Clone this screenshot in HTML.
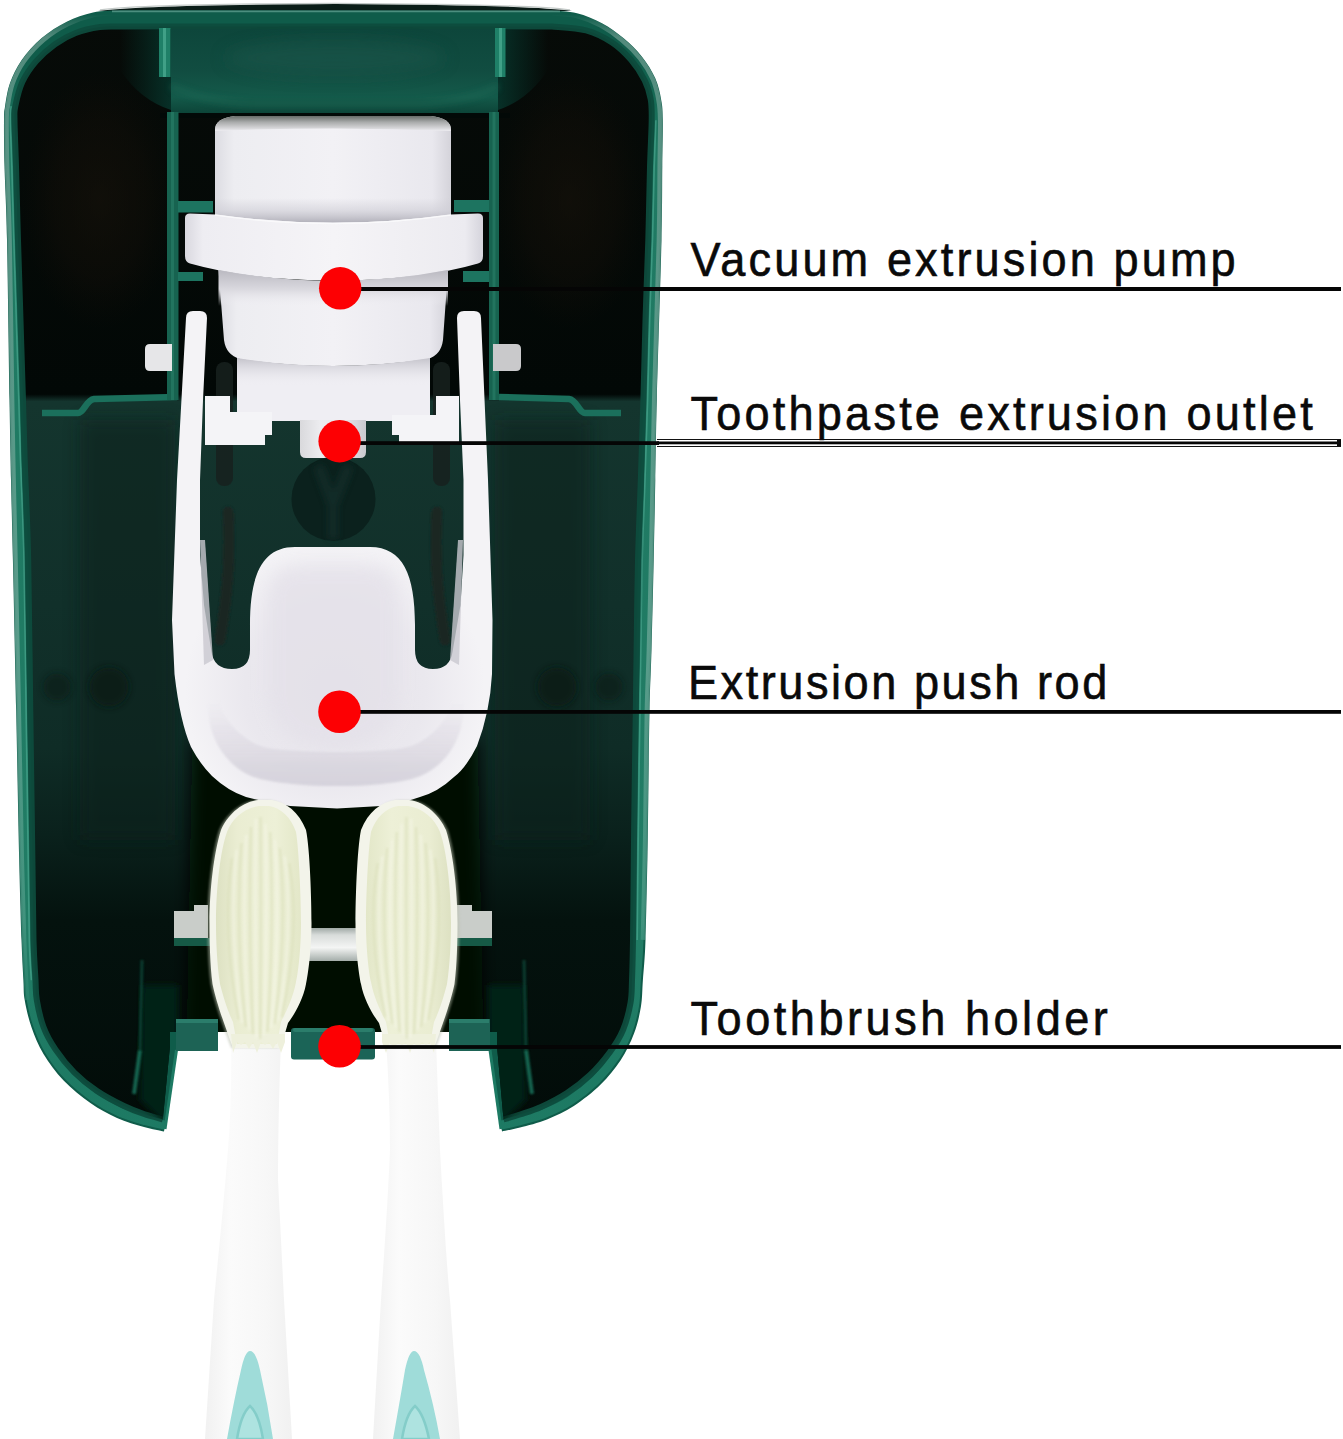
<!DOCTYPE html>
<html lang="en">
<head>
<meta charset="utf-8">
<title>Toothpaste dispenser parts</title>
<style>
html,body{margin:0;padding:0;background:#fff;}
body{width:1343px;height:1439px;overflow:hidden;position:relative;font-family:"Liberation Sans",sans-serif;}
svg{position:absolute;left:0;top:0;display:block;}
.lbl{font-family:"Liberation Sans",sans-serif;font-size:48px;fill:#0a0a0a;stroke:#0a0a0a;stroke-width:0.6px;}
</style>
</head>
<body>
<svg width="1343" height="1439" viewBox="0 0 1343 1439">
<defs>
<linearGradient id="rimG" x1="0" y1="0" x2="1" y2="0">
  <stop offset="0" stop-color="#1f7460"/>
  <stop offset="0.012" stop-color="#1a6a57"/>
  <stop offset="0.03" stop-color="#155a49"/>
  <stop offset="0.97" stop-color="#155a49"/>
  <stop offset="0.985" stop-color="#1c705c"/>
  <stop offset="1" stop-color="#1a6653"/>
</linearGradient>
<linearGradient id="innerG" x1="0" y1="0" x2="0" y2="1439" gradientUnits="userSpaceOnUse">
  <stop offset="0" stop-color="#070b08"/>
  <stop offset="0.274" stop-color="#020806"/>
  <stop offset="0.279" stop-color="#14352e"/>
  <stop offset="0.42" stop-color="#11302a"/>
  <stop offset="0.52" stop-color="#0f2c26"/>
  <stop offset="0.58" stop-color="#0a211c"/>
  <stop offset="0.64" stop-color="#04120e"/>
  <stop offset="0.8" stop-color="#020b08"/>
</linearGradient>
<linearGradient id="dishG" x1="0" y1="29" x2="0" y2="114" gradientUnits="userSpaceOnUse">
  <stop offset="0" stop-color="#0d463b"/>
  <stop offset="0.5" stop-color="#114d41"/>
  <stop offset="0.8" stop-color="#145a4a"/>
  <stop offset="1" stop-color="#0c4337"/>
</linearGradient>
<linearGradient id="cylH" x1="0" y1="0" x2="1" y2="0">
  <stop offset="0" stop-color="#dcdce2"/>
  <stop offset="0.08" stop-color="#ededf1"/>
  <stop offset="0.5" stop-color="#f2f1f5"/>
  <stop offset="0.92" stop-color="#e9e8ee"/>
  <stop offset="1" stop-color="#d4d3da"/>
</linearGradient>
<linearGradient id="topShade" x1="0" y1="115" x2="0" y2="131" gradientUnits="userSpaceOnUse">
  <stop offset="0" stop-color="#5c615e"/>
  <stop offset="0.45" stop-color="#a9abab"/>
  <stop offset="0.85" stop-color="#d9d9dc"/>
  <stop offset="1" stop-color="#efeef2"/>
</linearGradient>
<linearGradient id="underRing" x1="0" y1="272" x2="0" y2="306" gradientUnits="userSpaceOnUse">
  <stop offset="0" stop-color="#bdbcc4"/>
  <stop offset="0.5" stop-color="#d9d8de"/>
  <stop offset="1" stop-color="#eeedf2" stop-opacity="0"/>
</linearGradient>
<linearGradient id="underCyl" x1="0" y1="358" x2="0" y2="386" gradientUnits="userSpaceOnUse">
  <stop offset="0" stop-color="#c4c3cb"/>
  <stop offset="1" stop-color="#eeedf2" stop-opacity="0"/>
</linearGradient>
<radialGradient id="cupG" cx="335" cy="690" r="150" gradientUnits="userSpaceOnUse">
  <stop offset="0" stop-color="#e6e3ea"/>
  <stop offset="0.6" stop-color="#eae8ee"/>
  <stop offset="1" stop-color="#f4f3f6"/>
</radialGradient>
<linearGradient id="bristG" x1="0" y1="0" x2="1" y2="0">
  <stop offset="0" stop-color="#dde1c2"/>
  <stop offset="0.25" stop-color="#eaedd2"/>
  <stop offset="0.7" stop-color="#edf0d7"/>
  <stop offset="1" stop-color="#e3e7c8"/>
</linearGradient>
<linearGradient id="handleG" x1="0" y1="0" x2="1" y2="0">
  <stop offset="0" stop-color="#f1f1f1"/>
  <stop offset="0.3" stop-color="#fbfbfb"/>
  <stop offset="0.7" stop-color="#f7f7f7"/>
  <stop offset="1" stop-color="#f1f1f1"/>
</linearGradient>
<linearGradient id="barG" x1="0" y1="926" x2="0" y2="962" gradientUnits="userSpaceOnUse">
  <stop offset="0" stop-color="#8f9a96"/>
  <stop offset="0.25" stop-color="#d8dcda"/>
  <stop offset="0.6" stop-color="#f4f5f4"/>
  <stop offset="1" stop-color="#9ea8a4"/>
</linearGradient>
<filter id="b1" filterUnits="userSpaceOnUse" x="0" y="0" width="1343" height="1439"><feGaussianBlur stdDeviation="1"/></filter>
<filter id="b3" filterUnits="userSpaceOnUse" x="0" y="0" width="1343" height="1439"><feGaussianBlur stdDeviation="3"/></filter>
<filter id="b8" filterUnits="userSpaceOnUse" x="0" y="0" width="1343" height="1439"><feGaussianBlur stdDeviation="8"/></filter>
<filter id="b16" filterUnits="userSpaceOnUse" x="0" y="0" width="1343" height="1439"><feGaussianBlur stdDeviation="16"/></filter>
<clipPath id="innerClip"><path d="M120.0 26.5 L552.0 26.5 C557.7 27.1 576.1 27.7 586.1 30.4 C596.1 33.1 604.5 37.6 612.0 42.5 C619.5 47.4 625.5 53.5 631.0 59.8 C636.5 66.1 641.4 73.8 644.7 80.4 C648.0 87.0 649.5 92.7 650.7 99.3 C651.9 105.9 651.8 108.8 651.7 120.0 C651.6 131.2 650.6 146.7 650.0 166.7 C649.4 186.7 649.0 214.4 648.3 240.0 C647.5 265.6 646.3 293.3 645.5 320.0 C644.7 346.7 644.2 373.3 643.4 400.0 C642.6 426.7 641.7 453.3 640.8 480.0 C639.9 506.7 638.7 531.7 638.0 560.0 C637.3 588.3 637.0 624.8 636.6 650.0 C636.2 675.2 636.1 686.0 635.8 711.0 C635.4 736.0 634.8 775.2 634.5 800.0 C634.2 824.8 634.0 836.7 633.8 860.0 C633.5 883.3 633.3 920.0 633.0 940.0 C632.7 960.0 632.4 969.5 632.0 980.0 C631.6 990.5 632.0 994.7 630.5 1003.0 C629.0 1011.3 626.4 1021.8 623.0 1030.0 C619.6 1038.2 615.5 1044.5 610.0 1052.0 C604.5 1059.5 597.2 1068.2 590.0 1075.0 C582.8 1081.8 575.2 1087.7 567.0 1093.0 C558.8 1098.3 548.8 1103.4 541.0 1107.0 C533.2 1110.6 526.2 1112.4 520.0 1114.5 C513.8 1116.6 506.2 1118.6 503.5 1119.4 L497 1046 L497 1032 L170 1032 L170 1046 L162.8 1119.4 C159.7 1118.5 150.5 1116.2 144.0 1114.0 C137.5 1111.8 131.8 1109.8 124.0 1106.0 C116.2 1102.2 105.3 1096.6 97.0 1091.0 C88.7 1085.4 81.2 1079.4 74.3 1072.5 C67.4 1065.6 60.7 1057.3 55.6 1049.7 C50.5 1042.1 46.6 1035.3 43.5 1027.0 C40.4 1018.7 38.1 1007.8 36.8 1000.0 C35.5 992.2 36.0 990.0 35.5 980.0 C35.0 970.0 34.0 960.0 33.5 940.0 C33.0 920.0 32.9 898.2 32.4 860.0 C31.9 821.8 31.0 761.0 30.3 711.0 C29.6 661.0 29.1 601.8 28.2 560.0 C27.3 518.2 25.6 486.7 24.7 460.0 C23.8 433.3 23.7 423.3 23.0 400.0 C22.3 376.7 21.3 346.7 20.5 320.0 C19.7 293.3 18.8 265.7 18.0 240.0 C17.2 214.3 16.6 186.0 16.0 166.0 C15.4 146.0 14.6 129.9 14.5 120.0 C14.4 110.0 14.0 112.6 15.3 106.3 C16.6 100.0 18.9 89.6 22.3 82.1 C25.8 74.6 30.6 67.7 36.0 61.4 C41.5 55.1 48.4 48.9 55.0 44.2 C61.6 39.5 68.2 35.9 75.7 33.0 C83.2 30.1 92.4 28.1 99.8 27.0 C107.2 25.9 116.6 26.6 120.0 26.5 Z"/></clipPath>
<clipPath id="lheadClip"><path d="M262 803 C296 803 307 870 307 925 C307 975 293 1008 284 1032 L278 1046 L236 1046 L228 1032 C219 1005 216 975 216 925 C216 870 228 803 262 803 Z"/></clipPath>
<linearGradient id="paleV" x1="0" y1="0" x2="0" y2="1439" gradientUnits="userSpaceOnUse">
  <stop offset="0.010" stop-color="#7fa99d" stop-opacity="0"/>
  <stop offset="0.026" stop-color="#7fa99d" stop-opacity="0.6"/>
  <stop offset="0.06" stop-color="#6a9c8f" stop-opacity="0.75"/>
  <stop offset="0.45" stop-color="#68a595" stop-opacity="0.8"/>
  <stop offset="0.64" stop-color="#4f9c88" stop-opacity="0.7"/>
  <stop offset="0.70" stop-color="#2f8a72" stop-opacity="0.4"/>
  <stop offset="0.74" stop-color="#1f7a63" stop-opacity="0"/>
</linearGradient>
<linearGradient id="tealV" x1="0" y1="0" x2="0" y2="1439" gradientUnits="userSpaceOnUse">
  <stop offset="0.04" stop-color="#238068" stop-opacity="0"/>
  <stop offset="0.10" stop-color="#238068" stop-opacity="0.8"/>
  <stop offset="0.66" stop-color="#238068" stop-opacity="0.9"/>
  <stop offset="0.76" stop-color="#1f7d66" stop-opacity="0.9"/>
</linearGradient>
<radialGradient id="brownL" cx="100" cy="200" r="130" gradientUnits="userSpaceOnUse" gradientTransform="translate(100 200) scale(0.6 1) translate(-100 -200)">
  <stop offset="0" stop-color="#1a130b" stop-opacity="0.55"/>
  <stop offset="0.6" stop-color="#171009" stop-opacity="0.35"/>
  <stop offset="1" stop-color="#120d08" stop-opacity="0"/>
</radialGradient>
<radialGradient id="brownR" cx="570" cy="200" r="130" gradientUnits="userSpaceOnUse" gradientTransform="translate(570 200) scale(0.6 1) translate(-570 -200)">
  <stop offset="0" stop-color="#1a130b" stop-opacity="0.55"/>
  <stop offset="0.6" stop-color="#171009" stop-opacity="0.35"/>
  <stop offset="1" stop-color="#120d08" stop-opacity="0"/>
</radialGradient>
<linearGradient id="dishL" x1="120" y1="0" x2="171" y2="0" gradientUnits="userSpaceOnUse">
  <stop offset="0" stop-color="#07342b" stop-opacity="0"/>
  <stop offset="1" stop-color="#07342b" stop-opacity="0.9"/>
</linearGradient>
<linearGradient id="dishR" x1="548" y1="0" x2="498" y2="0" gradientUnits="userSpaceOnUse">
  <stop offset="0" stop-color="#07342b" stop-opacity="0"/>
  <stop offset="1" stop-color="#07342b" stop-opacity="0.9"/>
</linearGradient>
<linearGradient id="cylBot" x1="0" y1="198" x2="0" y2="222" gradientUnits="userSpaceOnUse">
  <stop offset="0" stop-color="#cfced6" stop-opacity="0"/>
  <stop offset="0.5" stop-color="#cfced6" stop-opacity="0.6"/>
  <stop offset="1" stop-color="#b4b3bc" stop-opacity="1"/>
</linearGradient>
<linearGradient id="ringH" x1="185" y1="0" x2="483" y2="0" gradientUnits="userSpaceOnUse">
  <stop offset="0" stop-color="#d9d8df"/>
  <stop offset="0.06" stop-color="#eeedf2"/>
  <stop offset="0.5" stop-color="#f5f4f7"/>
  <stop offset="0.94" stop-color="#ecebf0"/>
  <stop offset="1" stop-color="#d5d4dc"/>
</linearGradient>
<linearGradient id="bowlWall" x1="0" y1="700" x2="0" y2="786" gradientUnits="userSpaceOnUse">
  <stop offset="0" stop-color="#e6e4ea" stop-opacity="0"/>
  <stop offset="0.35" stop-color="#e0dde5" stop-opacity="0.7"/>
  <stop offset="0.75" stop-color="#d8d5de" stop-opacity="1"/>
  <stop offset="1" stop-color="#d2cfd9" stop-opacity="1"/>
</linearGradient>
<linearGradient id="nozG" x1="300" y1="0" x2="366" y2="0" gradientUnits="userSpaceOnUse">
  <stop offset="0" stop-color="#d9d9dc"/>
  <stop offset="0.3" stop-color="#ececef"/>
  <stop offset="0.7" stop-color="#e4e4e8"/>
  <stop offset="1" stop-color="#c9c9ce"/>
</linearGradient>
</defs>
<rect width="1343" height="1439" fill="#ffffff"/>
<g id="body">
<!-- dark top surface -->
<path d="M98 11 Q140 5 335 4 Q530 5 572 11 Z" fill="#0b1d18"/>
<path d="M100 10 Q140 4.200 335 3.300 Q530 4.200 570 10" fill="none" stroke="#7d8a86" stroke-width="1.300" opacity="0.45"/>
<!-- outer rim -->
<path d="M120.0 10.3 L552.0 10.5 C556.2 11.0 568.7 11.2 577.0 13.3 C585.3 15.4 594.2 19.1 602.0 23.3 C609.8 27.5 617.0 32.7 623.7 38.3 C630.4 43.9 636.7 50.0 642.0 56.7 C647.3 63.4 652.1 71.1 655.3 78.3 C658.5 85.5 660.0 93.0 661.2 100.0 C662.5 107.0 662.6 109.0 662.8 120.0 C663.0 131.0 662.5 146.0 662.3 166.0 C662.1 186.0 662.4 201.0 661.5 240.0 C660.6 279.0 657.8 360.0 656.8 400.0 C655.8 440.0 655.8 453.3 655.3 480.0 C654.8 506.7 654.3 531.7 653.7 560.0 C653.1 588.3 652.2 624.8 651.5 650.0 C650.8 675.2 650.0 686.0 649.5 711.0 C649.0 736.0 648.6 775.2 648.3 800.0 C647.9 824.8 647.9 836.7 647.4 860.0 C646.9 883.3 646.2 920.0 645.5 940.0 C644.8 960.0 643.7 968.9 642.9 980.0 C642.1 991.1 642.4 997.9 640.9 1006.8 C639.4 1015.7 637.4 1024.7 634.0 1033.6 C630.6 1042.5 626.4 1051.5 620.8 1060.0 C615.2 1068.5 608.4 1076.9 600.6 1084.6 C592.8 1092.3 582.7 1100.2 573.8 1106.0 C564.9 1111.8 556.0 1115.8 547.0 1119.4 C538.0 1123.0 527.5 1125.5 520.0 1127.5 C512.5 1129.5 505.0 1130.8 502.0 1131.5 L490 1050 L490 1032 L177 1032 L177 1046 L164.0 1131.5 C160.7 1130.8 151.8 1129.2 144.0 1127.0 C136.2 1124.8 125.9 1122.0 117.0 1118.0 C108.1 1114.0 99.3 1109.2 90.4 1103.0 C81.5 1096.8 71.4 1088.7 63.6 1080.5 C55.8 1072.3 48.9 1062.9 43.5 1054.0 C38.1 1045.1 34.5 1036.0 31.4 1027.0 C28.3 1018.0 26.0 1007.8 24.7 1000.0 C23.4 992.2 23.9 990.0 23.4 980.0 C22.9 970.0 22.2 960.0 21.5 940.0 C20.8 920.0 20.1 898.2 19.2 860.0 C18.3 821.8 17.2 761.0 16.2 711.0 C15.1 661.0 13.8 598.5 12.9 560.0 C12.0 521.5 11.6 506.7 11.0 480.0 C10.4 453.3 10.2 440.0 9.5 400.0 C8.8 360.0 7.8 279.0 7.0 240.0 C6.2 201.0 5.0 186.0 4.5 166.0 C4.0 146.0 3.9 129.9 4.0 120.0 C4.1 110.1 4.0 112.9 5.0 106.7 C6.0 100.5 7.2 90.8 10.0 83.0 C12.8 75.2 16.4 67.5 21.7 60.0 C27.0 52.5 34.2 44.4 41.7 38.0 C49.2 31.6 58.2 25.9 66.7 21.7 C75.2 17.4 84.1 14.4 93.0 12.5 C101.9 10.6 115.5 10.7 120.0 10.3 Z" fill="#0f5c4a"/>
<!-- pale outer band on sides -->
<path d="M120.5 16.8 C116.2 17.1 102.8 17.1 94.4 18.9 C85.9 20.6 77.7 23.5 69.6 27.5 C61.5 31.5 53.0 36.9 45.9 42.9 C38.8 49.0 32.0 56.7 27.0 63.7 C22.0 70.8 18.7 77.9 16.1 85.2 C13.5 92.5 12.4 101.9 11.4 107.7 C10.5 113.6 10.6 110.4 10.5 120.1 C10.4 129.7 10.5 145.9 11.0 165.8 C11.5 185.8 12.7 200.9 13.5 239.9 C14.3 278.9 15.3 359.9 16.0 399.9 C16.7 439.9 16.9 453.2 17.5 479.9 C18.1 506.5 18.5 521.4 19.4 559.9 C20.3 598.4 21.6 660.9 22.7 710.9 C23.7 760.9 24.8 821.7 25.7 859.8 C26.6 898.0 27.3 919.8 28.0 939.8 C28.7 959.7 29.4 969.8 29.9 979.7 C30.4 989.5 29.8 991.4 31.1 998.9 C32.4 1006.4 34.5 1016.2 37.5 1024.9 C40.5 1033.5 43.9 1042.1 49.1 1050.6 C54.2 1059.2 60.8 1068.2 68.3 1076.0 C75.8 1083.8 85.6 1091.7 94.1 1097.7 C102.7 1103.7 111.0 1108.2 119.7 1112.1 C128.3 1115.9 138.2 1118.6 145.8 1120.8 C153.4 1122.9 162.2 1124.4 165.4 1125.2" fill="none" stroke="url(#tealV)" stroke-width="9"/>
<path d="M551.3 17.0 C555.3 17.4 567.4 17.6 575.4 19.6 C583.3 21.6 591.6 25.1 598.9 29.0 C606.3 33.0 613.2 38.0 619.5 43.3 C625.9 48.6 631.9 54.5 636.9 60.7 C641.9 67.0 646.4 74.2 649.4 80.9 C652.3 87.7 653.6 94.6 654.8 101.2 C656.0 107.7 656.1 109.3 656.3 120.1 C656.5 130.9 656.0 146.0 655.8 165.9 C655.6 185.9 655.9 200.9 655.0 239.8 C654.1 278.8 651.3 359.8 650.3 399.8 C649.3 439.8 649.3 453.2 648.8 479.9 C648.3 506.5 647.8 531.5 647.2 559.9 C646.6 588.2 645.7 624.7 645.0 649.8 C644.3 675.0 643.5 685.8 643.0 710.9 C642.5 735.9 642.2 775.1 641.8 799.9 C641.5 824.7 641.4 836.6 640.9 859.9 C640.4 883.2 639.8 919.8 639.0 939.8 C638.3 959.7 637.2 968.6 636.4 979.6 C635.7 990.5 635.9 997.1 634.5 1005.7 C633.1 1014.4 631.1 1022.9 627.9 1031.3 C624.7 1039.8 620.7 1048.3 615.4 1056.4 C610.1 1064.5 603.6 1072.6 596.1 1080.0 C588.5 1087.3 578.8 1095.0 570.3 1100.5 C561.7 1106.1 553.2 1109.9 544.6 1113.4 C535.9 1116.8 525.6 1119.3 518.3 1121.2 C511.0 1123.2 503.5 1124.5 500.6 1125.2" fill="none" stroke="url(#tealV)" stroke-width="9"/>
<path d="M120.2 12.9 C115.8 13.2 102.3 13.2 93.5 15.0 C84.8 16.9 76.2 19.9 67.9 24.0 C59.5 28.2 50.7 33.7 43.4 40.0 C36.0 46.2 29.0 54.2 23.8 61.5 C18.7 68.8 15.2 76.3 12.4 83.9 C9.7 91.5 8.5 101.1 7.6 107.1 C6.6 113.1 6.7 110.2 6.6 120.0 C6.5 129.8 6.6 145.9 7.1 165.9 C7.6 185.9 8.8 200.9 9.6 239.9 C10.4 278.9 11.4 360.0 12.1 400.0 C12.8 440.0 13.0 453.3 13.6 479.9 C14.2 506.6 14.6 521.4 15.5 559.9 C16.4 598.4 17.7 660.9 18.8 710.9 C19.8 760.9 20.9 821.8 21.8 859.9 C22.7 898.1 23.4 919.9 24.1 939.9 C24.8 959.9 25.5 969.9 26.0 979.9 C26.5 989.8 27.1 996.5 27.3 999.8" fill="none" stroke="url(#paleV)" stroke-width="4.500"/>
<path d="M551.7 13.1 C555.8 13.5 568.2 13.7 576.4 15.8 C584.5 17.9 593.2 21.5 600.8 25.6 C608.4 29.7 615.5 34.8 622.0 40.3 C628.6 45.7 634.8 51.8 640.0 58.3 C645.1 64.8 649.8 72.3 652.9 79.4 C656.0 86.4 657.4 93.7 658.6 100.5 C659.9 107.2 660.0 109.1 660.2 120.0 C660.4 131.0 659.9 146.0 659.7 166.0 C659.5 186.0 659.8 200.9 658.9 239.9 C658.0 278.9 655.2 359.9 654.2 399.9 C653.2 439.9 653.2 453.3 652.7 479.9 C652.2 506.6 651.7 531.6 651.1 559.9 C650.5 588.3 649.6 624.8 648.9 649.9 C648.2 675.1 647.4 685.9 646.9 710.9 C646.4 736.0 646.1 775.1 645.7 800.0 C645.4 824.8 645.3 836.6 644.8 859.9 C644.3 883.3 643.2 926.6 642.9 939.9" fill="none" stroke="url(#paleV)" stroke-width="4.500"/>
<path d="M11.1 106.1 C11.0 108.4 10.2 110.0 10.3 120.0 C10.4 130.1 11.2 146.1 11.8 166.1 C12.4 186.1 13.1 214.5 13.8 240.1 C14.6 265.8 15.5 293.5 16.3 320.1 C17.1 346.8 18.1 376.8 18.8 400.1 C19.5 423.5 19.6 433.5 20.5 460.1 C21.4 486.8 23.1 518.3 24.0 560.1 C24.9 601.9 25.4 661.1 26.1 711.1 C26.8 761.1 27.7 821.9 28.2 860.1 C28.7 898.2 28.8 920.1 29.3 940.1 C29.8 960.1 31.0 973.5 31.3 980.2" fill="none" stroke="#55b39a" stroke-width="1.600" opacity="0.55"/>
<path d="M655.9 120.2 C655.6 127.9 654.8 146.8 654.2 166.8 C653.6 186.8 653.2 214.6 652.5 240.1 C651.7 265.7 650.5 293.5 649.7 320.1 C648.9 346.8 648.4 373.5 647.6 400.1 C646.8 426.8 645.9 453.5 645.0 480.1 C644.1 506.8 642.9 531.8 642.2 560.1 C641.5 588.4 641.2 624.9 640.8 650.1 C640.4 675.2 640.3 686.1 640.0 711.1 C639.6 736.1 639.0 775.2 638.7 800.1 C638.4 824.9 638.2 836.7 638.0 860.0 C637.7 883.4 637.3 926.7 637.2 940.0" fill="none" stroke="#55b39a" stroke-width="1.600" opacity="0.55"/>
<!-- top highlight line -->
<path d="M112 11.300 L560 11.300" stroke="#5c9c8d" stroke-width="1.800" opacity="0.8"/>
<!-- inner dark -->
<path d="M120.0 26.5 L552.0 26.5 C557.7 27.1 576.1 27.7 586.1 30.4 C596.1 33.1 604.5 37.6 612.0 42.5 C619.5 47.4 625.5 53.5 631.0 59.8 C636.5 66.1 641.4 73.8 644.7 80.4 C648.0 87.0 649.5 92.7 650.7 99.3 C651.9 105.9 651.8 108.8 651.7 120.0 C651.6 131.2 650.6 146.7 650.0 166.7 C649.4 186.7 649.0 214.4 648.3 240.0 C647.5 265.6 646.3 293.3 645.5 320.0 C644.7 346.7 644.2 373.3 643.4 400.0 C642.6 426.7 641.7 453.3 640.8 480.0 C639.9 506.7 638.7 531.7 638.0 560.0 C637.3 588.3 637.0 624.8 636.6 650.0 C636.2 675.2 636.1 686.0 635.8 711.0 C635.4 736.0 634.8 775.2 634.5 800.0 C634.2 824.8 634.0 836.7 633.8 860.0 C633.5 883.3 633.3 920.0 633.0 940.0 C632.7 960.0 632.4 969.5 632.0 980.0 C631.6 990.5 632.0 994.7 630.5 1003.0 C629.0 1011.3 626.4 1021.8 623.0 1030.0 C619.6 1038.2 615.5 1044.5 610.0 1052.0 C604.5 1059.5 597.2 1068.2 590.0 1075.0 C582.8 1081.8 575.2 1087.7 567.0 1093.0 C558.8 1098.3 548.8 1103.4 541.0 1107.0 C533.2 1110.6 526.2 1112.4 520.0 1114.5 C513.8 1116.6 506.2 1118.6 503.5 1119.4 L497 1046 L497 1032 L170 1032 L170 1046 L162.8 1119.4 C159.7 1118.5 150.5 1116.2 144.0 1114.0 C137.5 1111.8 131.8 1109.8 124.0 1106.0 C116.2 1102.2 105.3 1096.6 97.0 1091.0 C88.7 1085.4 81.2 1079.4 74.3 1072.5 C67.4 1065.6 60.7 1057.3 55.6 1049.7 C50.5 1042.1 46.6 1035.3 43.5 1027.0 C40.4 1018.7 38.1 1007.8 36.8 1000.0 C35.5 992.2 36.0 990.0 35.5 980.0 C35.0 970.0 34.0 960.0 33.5 940.0 C33.0 920.0 32.9 898.2 32.4 860.0 C31.9 821.8 31.0 761.0 30.3 711.0 C29.6 661.0 29.1 601.8 28.2 560.0 C27.3 518.2 25.6 486.7 24.7 460.0 C23.8 433.3 23.7 423.3 23.0 400.0 C22.3 376.7 21.3 346.7 20.5 320.0 C19.7 293.3 18.8 265.7 18.0 240.0 C17.2 214.3 16.6 186.0 16.0 166.0 C15.4 146.0 14.6 129.9 14.5 120.0 C14.4 110.0 14.0 112.6 15.3 106.3 C16.6 100.0 18.9 89.6 22.3 82.1 C25.8 74.6 30.6 67.7 36.0 61.4 C41.5 55.1 48.4 48.9 55.0 44.2 C61.6 39.5 68.2 35.9 75.7 33.0 C83.2 30.1 92.4 28.1 99.8 27.0 C107.2 25.9 116.6 26.6 120.0 26.5 Z" fill="url(#innerG)"/>
<path d="M162.8 1119.4 C159.7 1118.5 150.5 1116.2 144.0 1114.0 C137.5 1111.8 131.8 1109.8 124.0 1106.0 C116.2 1102.2 105.3 1096.6 97.0 1091.0 C88.7 1085.4 81.2 1079.4 74.3 1072.5 C67.4 1065.6 60.7 1057.3 55.6 1049.7 C50.5 1042.1 46.6 1035.3 43.5 1027.0 C40.4 1018.7 38.1 1007.8 36.8 1000.0 C35.5 992.2 36.0 990.0 35.5 980.0 C35.0 970.0 34.0 960.0 33.5 940.0 C33.0 920.0 32.9 898.2 32.4 860.0 C31.9 821.8 31.0 761.0 30.3 711.0 C29.6 661.0 29.1 601.8 28.2 560.0 C27.3 518.2 25.6 486.7 24.7 460.0 C23.8 433.3 23.7 423.3 23.0 400.0 C22.3 376.7 21.3 346.7 20.5 320.0 C19.7 293.3 18.8 265.7 18.0 240.0 C17.2 214.3 16.6 186.0 16.0 166.0 C15.4 146.0 14.6 129.9 14.5 120.0 C14.4 110.0 14.0 112.6 15.3 106.3 C16.6 100.0 18.9 89.6 22.3 82.1 C25.8 74.6 30.6 67.7 36.0 61.4 C41.5 55.1 48.4 48.9 55.0 44.2 C61.6 39.5 68.2 35.9 75.7 33.0 C83.2 30.1 92.4 28.1 99.8 27.0 C107.2 25.9 116.6 26.6 120.0 26.5 L552.0 26.5 C557.7 27.1 576.1 27.7 586.1 30.4 C596.1 33.1 604.5 37.6 612.0 42.5 C619.5 47.4 625.5 53.5 631.0 59.8 C636.5 66.1 641.4 73.8 644.7 80.4 C648.0 87.0 649.5 92.7 650.7 99.3 C651.9 105.9 651.8 108.8 651.7 120.0 C651.6 131.2 650.6 146.7 650.0 166.7 C649.4 186.7 649.0 214.4 648.3 240.0 C647.5 265.6 646.3 293.3 645.5 320.0 C644.7 346.7 644.2 373.3 643.4 400.0 C642.6 426.7 641.7 453.3 640.8 480.0 C639.9 506.7 638.7 531.7 638.0 560.0 C637.3 588.3 637.0 624.8 636.6 650.0 C636.2 675.2 636.1 686.0 635.8 711.0 C635.4 736.0 634.8 775.2 634.5 800.0 C634.2 824.8 634.0 836.7 633.8 860.0 C633.5 883.3 633.3 920.0 633.0 940.0 C632.7 960.0 632.4 969.5 632.0 980.0 C631.6 990.5 632.0 994.7 630.5 1003.0 C629.0 1011.3 626.4 1021.8 623.0 1030.0 C619.6 1038.2 615.5 1044.5 610.0 1052.0 C604.5 1059.5 597.2 1068.2 590.0 1075.0 C582.8 1081.8 575.2 1087.7 567.0 1093.0 C558.8 1098.3 548.8 1103.4 541.0 1107.0 C533.2 1110.6 526.2 1112.4 520.0 1114.5 C513.8 1116.6 506.2 1118.6 503.5 1119.4" fill="none" stroke="#0e4c3d" stroke-width="6" opacity="0.95"/>
<g clip-path="url(#innerClip)">
  <!-- brown tint upper corners -->
  <rect x="22" y="60" width="150" height="300" fill="url(#brownL)"/>
  <rect x="495" y="60" width="150" height="300" fill="url(#brownR)"/>
  <!-- top band / dish -->
  <path d="M120 29 L171 29 L171 110 Q140 100 120 70 Z" fill="url(#dishL)"/>
  <path d="M548 29 L498 29 L498 110 Q528 100 548 70 Z" fill="url(#dishR)"/>
  <path d="M171 29 L498 29 L498 113 L171 113 Z" fill="url(#dishG)"/>
  <path d="M171 86 Q200 101 250 104 L420 104 Q470 101 498 86" fill="none" stroke="#1b6a57" stroke-width="6" opacity="0.5" filter="url(#b3)"/>
  <ellipse cx="335" cy="58" rx="110" ry="18" fill="#1c574c" opacity="0.55" filter="url(#b8)"/>
  <rect x="160" y="113" width="350" height="5" fill="#020907"/>
  <!-- interior tonal variations -->
  <rect x="80" y="420" width="95" height="420" fill="#0a241f" opacity="0.55" filter="url(#b8)"/>
  <rect x="495" y="420" width="95" height="420" fill="#0a241f" opacity="0.55" filter="url(#b8)"/>
  <circle cx="109" cy="687" r="20" fill="#071c18" opacity="0.8" filter="url(#b3)"/>
  <circle cx="57" cy="687" r="14" fill="#071c18" opacity="0.6" filter="url(#b3)"/>
  <circle cx="557" cy="687" r="20" fill="#071c18" opacity="0.8" filter="url(#b3)"/>
  <circle cx="609" cy="687" r="14" fill="#071c18" opacity="0.6" filter="url(#b3)"/>
  <!-- dark lower region under rod -->
  <path d="M192 740 L478 740 L484 1060 L186 1060 Z" fill="#010806" filter="url(#b8)"/>
  <!-- bottom side walls -->
  <path d="M142 985 L178 985 L178 1040 L166 1125 L140 1100 Z" fill="#052119" filter="url(#b3)"/>
  <path d="M524 985 L488 985 L488 1040 L500 1125 L526 1100 Z" fill="#052119" filter="url(#b3)"/>
  <path d="M140 1050 L134 1094" stroke="#1a7a62" stroke-width="4" opacity="0.8" filter="url(#b1)"/>
  <path d="M526 1050 L532 1094" stroke="#1a7a62" stroke-width="4" opacity="0.8" filter="url(#b1)"/>
  <path d="M142 960 L140 1050" stroke="#10503f" stroke-width="3" opacity="0.7" filter="url(#b1)"/>
  <path d="M524 960 L526 1050" stroke="#10503f" stroke-width="3" opacity="0.7" filter="url(#b1)"/>
</g>
<!-- cut edge highlights -->
<path d="M176.500 1050 L165 1129" stroke="#1d7a63" stroke-width="3"/>
<path d="M490 1050 L501 1129" stroke="#1d7a63" stroke-width="3"/>
<!-- shelves -->
<path d="M42 413 L78 413 C84 413 86 400 94 399 L177 397" fill="none" stroke="#1b705c" stroke-width="6.500" stroke-linejoin="round"/>
<path d="M621 413 L585 413 C579 413 577 400 569 399 L499 397" fill="none" stroke="#1b705c" stroke-width="6.500" stroke-linejoin="round"/>
<!-- brackets -->
<rect x="159" y="28" width="11.500" height="49" fill="#1f8068"/>
<rect x="163" y="28" width="3" height="49" fill="#4fae94" opacity="0.7"/>
<rect x="495" y="28" width="10.500" height="49" fill="#1f8068"/>
<rect x="499" y="28" width="3" height="49" fill="#4fae94" opacity="0.7"/>
<rect x="167" y="112" width="11.500" height="288" fill="#176350"/>
<rect x="171" y="112" width="3" height="288" fill="#2a8069" opacity="0.6"/>
<rect x="489" y="112" width="10" height="288" fill="#176350"/>
<rect x="492.500" y="112" width="3" height="288" fill="#2a8069" opacity="0.6"/>
<rect x="178" y="201" width="35" height="11.500" fill="#1d7460"/>
<rect x="454" y="200" width="35" height="12" fill="#1d7460"/>
<rect x="178" y="272" width="25" height="9" fill="#1d7460"/>
<rect x="463" y="271" width="26" height="11" fill="#1d7460"/>
<!-- pegs -->
<path d="M150 344 L172 344 L172 371 L150 371 Q145 371 145 366 L145 349 Q145 344 150 344 Z" fill="#e6e6e8"/>
<path d="M493 344 L516 344 Q521 344 521 349 L521 366 Q521 371 516 371 L493 371 Z" fill="#c9c9cb"/>
</g>
<g id="pump">
<!-- top cylinder -->
<path d="M215 130 Q215 118 235 116 L431 116 Q451 118 451 130 L451 224 L215 224 Z" fill="url(#cylH)"/>
<path d="M215 130 Q215 118 235 116 L431 116 Q451 118 451 130 L451 131 Q333 126 215 131 Z" fill="url(#topShade)"/>
<path d="M215 198 L451 198 L451 214.500 Q333 231 215 214.500 Z" fill="url(#cylBot)"/>
<!-- ring -->
<path d="M185 218 Q185 213.500 190 213.500 L215 214.500 Q333 231 451 214.500 L478 213.500 Q483 213.500 483 218 L483 256 Q483 262 478 263.500 Q420 280.500 334 280.500 Q250 280.500 190 263.500 Q185 262 185 256 Z" fill="url(#ringH)"/>
<path d="M215 215 Q333 232 451 215" fill="none" stroke="#fbfbfd" stroke-width="1.500" opacity="0.8"/>
<!-- lower cylinder -->
<path d="M218.500 270 L224 340 Q226 355 240 359 Q333 373 428 359 Q441 355 443 340 L448 270 Q333 292 218.500 270 Z" fill="url(#cylH)"/>
<path d="M218.500 270 Q333 292 448 270 L448 306 L218.500 306 Z" fill="url(#underRing)"/>
<!-- small cylinder -->
<path d="M237 358 Q333 374 430 358 L430 416 L392 421 L272 421 L237 416 Z" fill="#efeef3"/>
<path d="M237 358 Q333 374 430 358 L430 388 L237 388 Z" fill="url(#underCyl)"/>
<!-- base + nozzle -->
<path d="M300 420 L366 420 L366 452 Q366 458 360 458 L306 458 Q300 458 300 452 Z" fill="url(#nozG)"/>
</g>
<g id="rod">
<!-- dark hook blob behind rod -->
<circle cx="333.500" cy="499" r="42" fill="#0b211d"/>
<path d="M320 470 L333 505 L347 470 M333 505 L333 535" stroke="#17332e" stroke-width="10" fill="none" stroke-linecap="round" opacity="0.6" filter="url(#b3)"/>
<rect x="216" y="362" width="17" height="124" rx="8" fill="#18211f" opacity="0.85"/>
<rect x="433" y="362" width="17" height="124" rx="8" fill="#18211f" opacity="0.85"/>
<path d="M228 512 Q232 570 220 640" stroke="#1c2623" stroke-width="11" fill="none" stroke-linecap="round" opacity="0.9" filter="url(#b1)"/>
<path d="M437 512 Q433 570 445 640" stroke="#1c2623" stroke-width="11" fill="none" stroke-linecap="round" opacity="0.9" filter="url(#b1)"/>
<!-- flanges -->
<path d="M205 396 L230 396 L230 412 L272 412 L272 435 L265 435 L265 445 L205 445 Z" fill="#f4f4f7"/>
<path d="M459 396 L436 396 L436 415 L392 415 L392 435 L399 435 L399 445 L459 445 Z" fill="#f4f4f7"/>
<!-- main rod with hole -->
<path fill-rule="evenodd" fill="url(#cupG)" d="M186 318 Q186 311 193 311 L200 311 Q207 311 207 318 L203 400 L200 480 L200 555 L204 605 L211.500 652 Q214 669 232 669 Q250 669 250 650 L250 625 C250 575 262 547 295 547 L370 547 C403 547 415 575 415 625 L415 650 Q415 669 433 669 Q450 669 452.500 652 L460.500 605 L463.500 555 L463.500 480 L460 400 L457 318 Q457 311 464 311 L474 311 Q481 311 481 318 L488 480 L492.500 620 L492 674 Q490 712 477 746 Q466 768 454 777 Q438 792 420 797 Q400 804 381 806 L337 808.500 L290 806 Q268 803 246 797 Q228 791 212 776 Q200 764 191 747 Q180 722 174.500 674 L172 620 L177 480 Z"/>
<!-- arm side faces -->
<path d="M200 540 L205 540 L213 660 L204 665 Z" fill="#c9c8d0" opacity="0.8"/>
<path d="M463 540 L458 540 L450 660 L459 665 Z" fill="#c9c8d0" opacity="0.8"/>
<!-- cup inner shading -->
<path d="M268 600 Q268 566 300 566 L366 566 Q398 566 398 600 L398 690 Q398 745 335 748 Q268 745 268 690 Z" fill="#e4e1e9" opacity="0.75" filter="url(#b8)"/>
<path d="M207.0 700.0 C207.8 705.3 208.8 722.1 212.0 731.6 C215.2 741.1 219.5 749.6 226.0 757.0 C232.5 764.4 240.0 771.5 251.0 776.0 C262.0 780.5 277.7 782.3 292.0 784.0 C306.3 785.7 322.0 786.0 337.0 786.0 C352.0 786.0 368.1 785.7 382.0 784.0 C395.9 782.3 409.9 780.5 420.6 776.0 C431.3 771.5 439.5 764.4 446.0 757.0 C452.5 749.6 456.5 741.1 459.7 731.6 C462.9 722.1 464.1 705.3 465.0 700.0 L452.0 700.0 C451.1 702.7 450.4 710.2 446.7 716.0 C443.0 721.8 436.5 729.8 430.0 735.0 C423.5 740.2 417.3 744.3 407.6 747.0 C397.9 749.7 383.8 750.2 372.0 751.0 C360.2 751.8 348.7 752.0 337.0 752.0 C325.3 752.0 314.2 751.8 302.0 751.0 C289.8 750.2 274.0 749.7 264.0 747.0 C254.0 744.3 248.5 740.2 242.0 735.0 C235.5 729.8 228.7 721.8 225.0 716.0 C221.3 710.2 220.8 702.7 220.0 700.0 Z" fill="url(#bowlWall)" opacity="0.85" filter="url(#b1)"/>
</g>
<g id="brush">
<!-- things behind heads -->
<path d="M174 911 L194 911 L194 905 L208 905 L208 938 L174 938 Z" fill="#c9cdc9"/>
<rect x="174" y="938" width="42" height="8" fill="#165a46"/>
<path d="M492 911 L472 911 L472 905 L457 905 L457 938 L492 938 Z" fill="#c9cdc9"/>
<rect x="452" y="938" width="40" height="8" fill="#165a46"/>
<rect x="308" y="928" width="50" height="33" fill="url(#barG)"/>
<!-- bottom tabs -->
<rect x="176" y="1019" width="42" height="32" fill="#1d6355"/>
<rect x="176" y="1019" width="42" height="4" fill="#2b7d6b"/>
<rect x="449" y="1019" width="41" height="32" fill="#1d6355"/>
<rect x="449" y="1019" width="40" height="4" fill="#2b7d6b"/>
<rect x="291" y="1028" width="84" height="31.500" rx="3" fill="#1b6457"/>
<rect x="293" y="1028" width="80" height="4" rx="2" fill="#2b7d6b"/>
<!-- handles -->
<path id="hl" d="M231 1040 L281 1040 Q278 1120 278 1180 Q282 1260 284 1300 L292 1439 L205 1439 L214 1300 Q224 1200 228 1150 Q232 1100 231 1040 Z" fill="url(#handleG)"/>
<path id="hr" d="M386 1040 L436 1040 Q438 1100 440 1150 Q446 1260 450 1300 L460 1439 L373 1439 L381 1300 Q388 1200 390 1150 Q390 1100 386 1040 Z" fill="url(#handleG)"/>
<!-- grips -->
<path d="M250 1351 Q256 1351 260 1370 Q268 1405 273 1439 L227 1439 Q234 1400 241 1370 Q245 1351 250 1351 Z" fill="#9fdcd9"/>
<path d="M414 1351 Q420 1351 424 1370 Q434 1405 440 1439 L393 1439 Q400 1400 405 1370 Q409 1351 414 1351 Z" fill="#9fdcd9"/>
<path d="M250 1406 Q259 1414 263 1439 L237 1439 Q241 1414 250 1406 Z" fill="#aee3e0" stroke="#84cdc9" stroke-width="2.500"/>
<path d="M415 1406 Q424 1414 429 1439 L402 1439 Q406 1414 415 1406 Z" fill="#aee3e0" stroke="#84cdc9" stroke-width="2.500"/>
<!-- heads -->
<g id="headL">
<path d="M258 800 L272 800 C286 802 299 812 306 830 C310 850 311.500 900 311.500 923 C311.500 950 308 975 306 984 C303 1000 294 1015 288 1023 L283 1040 L281 1048 L233 1048 L230 1040 L224 1023 C220 1012 215 996 212.500 984 C210 965 209.500 940 209.500 923 C209.500 890 214 852 221 830 C227 816 241 802 258 800 Z" fill="#b9bfae" opacity="0.5" transform="translate(-2 0)" filter="url(#b1)"/>
<path d="M258 800 L272 800 C286 802 299 812 306 830 C310 850 311.500 900 311.500 923 C311.500 950 308 975 306 984 C303 1000 294 1015 288 1023 L283 1040 L281 1048 L233 1048 L230 1040 L224 1023 C220 1012 215 996 212.500 984 C210 965 209.500 940 209.500 923 C209.500 890 214 852 221 830 C227 816 241 802 258 800 Z" fill="#f3f4ea"/>
<path d="M259 806 L269 806 C281 808 291 817 296 832 C299 850 301 900 301 923 C301 950 298 974 296 982 C293 998 286 1012 281 1022 L277 1044 L237 1044 L233 1022 C228 1012 223 996 220 984 C217 965 216 940 216 923 C216 890 220 852 227 832 C232 819 244 808 259 806 Z" fill="url(#bristG)"/>
<path d="M231 1034 L233 1053 L237 1042 L241 1045 L245 1042 L249 1049 L253 1042 L257 1053 L261 1042 L265 1045 L269 1042 L273 1049 L277 1042 L281 1053 L285 1042 L285 1034 Z" fill="#eef0dc"/>
<g stroke-width="2.200" fill="none" opacity="0.6" filter="url(#b1)">
<path d="M231.8 858 Q221.6 930 238.6 1020" stroke="#d9deb8"/>
<path d="M236.6 850 Q228.2 930 242.2 1023" stroke="#f6f7e8"/>
<path d="M241.4 843 Q234.8 930 245.8 1027" stroke="#d9deb8"/>
<path d="M246.2 835 Q241.4 930 249.4 1030" stroke="#f6f7e8"/>
<path d="M251.0 827 Q248.0 930 253.0 1034" stroke="#d9deb8"/>
<path d="M255.8 819 Q254.6 930 256.6 1038" stroke="#f6f7e8"/>
<path d="M260.6 817 Q261.2 930 260.2 1039" stroke="#d9deb8"/>
<path d="M265.4 824 Q267.8 930 263.8 1035" stroke="#f6f7e8"/>
<path d="M270.2 832 Q274.4 930 267.4 1032" stroke="#d9deb8"/>
<path d="M275.0 840 Q281.0 930 271.0 1028" stroke="#f6f7e8"/>
<path d="M279.8 848 Q287.6 930 274.6 1024" stroke="#d9deb8"/>
<path d="M284.6 856 Q294.2 930 278.2 1021" stroke="#f6f7e8"/>
<path d="M289.4 863 Q300.8 930 281.8 1017" stroke="#d9deb8"/>
</g>
</g>
<g id="headR" transform="translate(667 0) scale(-1 1)">
<path d="M258 800 L272 800 C286 802 299 812 306 830 C310 850 311.500 900 311.500 923 C311.500 950 308 975 306 984 C303 1000 294 1015 288 1023 L283 1040 L281 1048 L233 1048 L230 1040 L224 1023 C220 1012 215 996 212.500 984 C210 965 209.500 940 209.500 923 C209.500 890 214 852 221 830 C227 816 241 802 258 800 Z" fill="#b9bfae" opacity="0.5" transform="translate(-2 0)" filter="url(#b1)"/>
<path d="M258 800 L272 800 C286 802 299 812 306 830 C310 850 311.500 900 311.500 923 C311.500 950 308 975 306 984 C303 1000 294 1015 288 1023 L283 1040 L281 1048 L233 1048 L230 1040 L224 1023 C220 1012 215 996 212.500 984 C210 965 209.500 940 209.500 923 C209.500 890 214 852 221 830 C227 816 241 802 258 800 Z" fill="#f3f4ea"/>
<path d="M259 806 L269 806 C281 808 291 817 296 832 C299 850 301 900 301 923 C301 950 298 974 296 982 C293 998 286 1012 281 1022 L277 1044 L237 1044 L233 1022 C228 1012 223 996 220 984 C217 965 216 940 216 923 C216 890 220 852 227 832 C232 819 244 808 259 806 Z" fill="url(#bristG)"/>
<path d="M231 1034 L233 1053 L237 1042 L241 1045 L245 1042 L249 1049 L253 1042 L257 1053 L261 1042 L265 1045 L269 1042 L273 1049 L277 1042 L281 1053 L285 1042 L285 1034 Z" fill="#eef0dc"/>
<g stroke-width="2.200" fill="none" opacity="0.6" filter="url(#b1)">
<path d="M231.8 858 Q221.6 930 238.6 1020" stroke="#d9deb8"/>
<path d="M236.6 850 Q228.2 930 242.2 1023" stroke="#f6f7e8"/>
<path d="M241.4 843 Q234.8 930 245.8 1027" stroke="#d9deb8"/>
<path d="M246.2 835 Q241.4 930 249.4 1030" stroke="#f6f7e8"/>
<path d="M251.0 827 Q248.0 930 253.0 1034" stroke="#d9deb8"/>
<path d="M255.8 819 Q254.6 930 256.6 1038" stroke="#f6f7e8"/>
<path d="M260.6 817 Q261.2 930 260.2 1039" stroke="#d9deb8"/>
<path d="M265.4 824 Q267.8 930 263.8 1035" stroke="#f6f7e8"/>
<path d="M270.2 832 Q274.4 930 267.4 1032" stroke="#d9deb8"/>
<path d="M275.0 840 Q281.0 930 271.0 1028" stroke="#f6f7e8"/>
<path d="M279.8 848 Q287.6 930 274.6 1024" stroke="#d9deb8"/>
<path d="M284.6 856 Q294.2 930 278.2 1021" stroke="#f6f7e8"/>
<path d="M289.4 863 Q300.8 930 281.8 1017" stroke="#d9deb8"/>
</g>
</g>
</g>
<g id="labels">
<rect x="355" y="287" width="986" height="4" fill="#050505"/>
<rect x="355" y="441.200" width="304" height="3.800" fill="#050505"/>
<rect x="657" y="439" width="684" height="1" fill="#111"/>
<rect x="657" y="441.500" width="684" height="2.800" fill="#050505"/>
<rect x="657" y="446" width="684" height="1" fill="#111"/>
<rect x="1337" y="440" width="4" height="6" fill="#0a0a0a"/>
<rect x="355" y="710" width="986" height="3.800" fill="#050505"/>
<rect x="355" y="1045.100" width="986" height="3.800" fill="#050505"/>
<circle cx="340.200" cy="288.300" r="21.200" fill="#fd0003"/>
<circle cx="339.600" cy="441.200" r="21.200" fill="#fd0003"/>
<circle cx="339.500" cy="711.700" r="21.300" fill="#fd0003"/>
<circle cx="339.500" cy="1046.300" r="21.300" fill="#fd0003"/>
<text class="lbl" transform="translate(690.500 276.100) scale(0.940 1)" textLength="580" lengthAdjust="spacing">Vacuum extrusion pump</text>
<text class="lbl" transform="translate(690.500 430) scale(0.940 1)" textLength="662" lengthAdjust="spacing">Toothpaste extrusion outlet</text>
<text class="lbl" transform="translate(688 699.300) scale(0.940 1)" textLength="446" lengthAdjust="spacing">Extrusion push rod</text>
<text class="lbl" transform="translate(690.500 1034.700) scale(0.940 1)" textLength="444" lengthAdjust="spacing">Toothbrush holder</text>
</g>
</svg>
</body>
</html>
